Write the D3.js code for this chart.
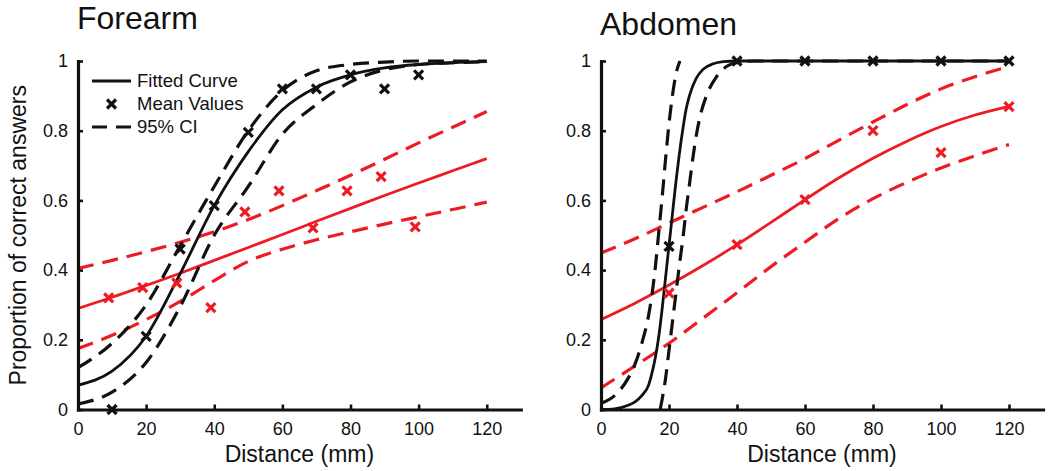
<!DOCTYPE html>
<html><head><meta charset="utf-8">
<script src="https://cdn.jsdelivr.net/npm/d3@7"></script>
<style>
html,body{margin:0;padding:0;background:#fff;}
svg{display:block;font-family:"Liberation Sans",Arial,Helvetica,sans-serif;}
</style></head>
<body><svg id="chart" width="1050" height="471"></svg>
<script>
// ---------------- data ----------------
const xTicks = [0, 20, 40, 60, 80, 100, 120];
const xTickLabels = ["0", "20", "40", "60", "80", "100", "120"];
const yTicks = [0, 0.2, 0.4, 0.6, 0.8, 1];
const yTickLabels = ["0", "0.2", "0.4", "0.6", "0.8", "1"];
const legendLabels = ["Fitted Curve", "Mean Values", "95% CI"];
const panelTitles = ["Forearm", "Abdomen"];

const curveX = [0, 10, 20, 30, 40, 50, 60, 70, 80, 90, 100, 110, 120];

// Forearm
const forearmBlackMeanX = [10, 20, 30, 40, 50, 60, 70, 80, 90, 100];
const forearmBlackMean = [0, 0.21, 0.46, 0.585, 0.795, 0.92, 0.92, 0.96, 0.92, 0.96];
const forearmRedMeanX = [9, 19, 29, 39, 49, 59, 69, 79, 89, 99];
const forearmRedMean = [0.32, 0.35, 0.363, 0.292, 0.567, 0.627, 0.521, 0.627, 0.668, 0.524];
const forearmBlackFit = [0.07, 0.11, 0.21, 0.39, 0.585, 0.74, 0.86, 0.925, 0.96, 0.98, 0.99, 0.995, 0.998];
const forearmBlackUpper = [0.12, 0.19, 0.30, 0.47, 0.64, 0.80, 0.915, 0.972, 0.99, 0.997, 1, 1, 1];
const forearmBlackLower = [0.016, 0.05, 0.135, 0.295, 0.50, 0.64, 0.79, 0.875, 0.94, 0.975, 0.99, 0.995, 0.998];
const forearmRedFit = [0.29, 0.322, 0.356, 0.391, 0.428, 0.465, 0.502, 0.54, 0.577, 0.614, 0.65, 0.685, 0.72];
const forearmRedUpper = [0.405, 0.428, 0.453, 0.48, 0.51, 0.545, 0.585, 0.628, 0.672, 0.718, 0.765, 0.81, 0.855];
const forearmRedLower = [0.175, 0.213, 0.258, 0.31, 0.37, 0.425, 0.46, 0.487, 0.51, 0.532, 0.553, 0.574, 0.595];

// Abdomen
const abdomenMeanX = [20, 40, 60, 80, 100, 120];
const abdomenBlackMean = [0.468, 1, 1, 1, 1, 1];
const abdomenRedMean = [0.334, 0.473, 0.602, 0.80, 0.737, 0.869];
const abdomenBlackFitX = [0, 4, 8, 10, 12, 14, 15, 16, 17, 18, 19, 20, 21, 22, 23, 24, 25, 26, 28, 30, 33, 36, 40, 60, 80, 100, 120];
const abdomenBlackFit = [0, 0.002, 0.012, 0.022, 0.04, 0.07, 0.105, 0.15, 0.21, 0.29, 0.38, 0.47, 0.56, 0.65, 0.73, 0.8, 0.86, 0.9, 0.95, 0.976, 0.992, 0.998, 1, 1, 1, 1, 1];
const abdomenBlackUpperX = [0, 4, 8, 10, 12, 14, 15, 16, 17, 18, 19, 20, 21, 22, 23.2];
const abdomenBlackUpper = [0.018, 0.04, 0.09, 0.13, 0.19, 0.27, 0.33, 0.41, 0.51, 0.61, 0.72, 0.82, 0.9, 0.96, 1.0];
const abdomenBlackLowerX = [17.4, 18, 19, 20, 21, 22, 23, 24.2, 25, 26, 27, 28, 29, 31, 34, 37, 40, 45, 50, 60, 80, 100, 120];
const abdomenBlackLower = [0, 0.03, 0.09, 0.17, 0.25, 0.33, 0.41, 0.5, 0.57, 0.645, 0.72, 0.785, 0.835, 0.9, 0.955, 0.985, 0.995, 1, 1, 1, 1, 1, 1];
const abdomenRedFit = [0.258, 0.305, 0.357, 0.413, 0.473, 0.537, 0.602, 0.665, 0.721, 0.77, 0.812, 0.845, 0.87];
const abdomenRedUpper = [0.449, 0.49, 0.535, 0.58, 0.625, 0.672, 0.72, 0.773, 0.825, 0.875, 0.92, 0.955, 0.984];
const abdomenRedLower = [0.062, 0.125, 0.19, 0.262, 0.335, 0.41, 0.48, 0.548, 0.605, 0.652, 0.693, 0.728, 0.76];

// ---------------- drawing ----------------
const BLACK = "#111111";
const RED = "#ed1c24";
const DASH = "16,9";
const svg = d3.select("#chart");

const zip = (xs, ys) => xs.map((x, i) => [x, ys[i]]);

const panels = [
  {
    title: panelTitles[0], left: 78, right: 520.8, titleY: 29, legend: true,
    red: {fit: zip(curveX, forearmRedFit), up: zip(curveX, forearmRedUpper), lo: zip(curveX, forearmRedLower),
          mean: zip(forearmRedMeanX, forearmRedMean)},
    black: {fit: zip(curveX, forearmBlackFit), up: zip(curveX, forearmBlackUpper), lo: zip(curveX, forearmBlackLower),
          mean: zip(forearmBlackMeanX, forearmBlackMean)}
  },
  {
    title: panelTitles[1], left: 601, right: 1043, titleY: 35, legend: false,
    red: {fit: zip(curveX, abdomenRedFit), up: zip(curveX, abdomenRedUpper), lo: zip(curveX, abdomenRedLower),
          mean: zip(abdomenMeanX, abdomenRedMean)},
    black: {fit: zip(abdomenBlackFitX, abdomenBlackFit), up: zip(abdomenBlackUpperX, abdomenBlackUpper),
          lo: zip(abdomenBlackLowerX, abdomenBlackLower), mean: zip(abdomenMeanX, abdomenBlackMean)}
  }
];

const yTop = 61, yBot = 409.5;

function drawX(g, cx, cy, r, color) {
  g.append("path")
    .attr("d", `M${cx - r},${cy - r}L${cx + r},${cy + r}M${cx - r},${cy + r}L${cx + r},${cy - r}`)
    .attr("stroke", color).attr("stroke-width", 3.2).attr("fill", "none");
}

panels.forEach((p, pi) => {
  const x = d3.scaleLinear().domain([0, 130]).range([p.left, p.right]);
  const y = d3.scaleLinear().domain([0, 1]).range([yBot, yTop]);
  const g = svg.append("g");

  const clipId = "clip" + pi;
  svg.append("clipPath").attr("id", clipId).append("rect")
    .attr("x", p.left).attr("y", yTop - 3).attr("width", p.right - p.left).attr("height", yBot - yTop + 4);

  const line = d3.line().x(d => x(d[0])).y(d => y(d[1])).curve(d3.curveMonotoneX);
  const plot = g.append("g").attr("clip-path", `url(#${clipId})`);

  function series(s, color) {
    plot.append("path").attr("d", line(s.up)).attr("fill", "none").attr("stroke", color)
      .attr("stroke-width", 3.2).attr("stroke-dasharray", DASH);
    plot.append("path").attr("d", line(s.lo)).attr("fill", "none").attr("stroke", color)
      .attr("stroke-width", 3.2).attr("stroke-dasharray", DASH);
    plot.append("path").attr("d", line(s.fit)).attr("fill", "none").attr("stroke", color)
      .attr("stroke-width", 2.8);
    s.mean.forEach(d => drawX(g, x(d[0]), y(d[1]), 4.5, color));
  }
  series(p.red, RED);
  series(p.black, BLACK);

  // axes
  const xAxis = d3.axisBottom(x).tickValues(xTicks).tickFormat((d, i) => xTickLabels[i])
    .tickSizeInner(-5).tickSizeOuter(0).tickPadding(13);
  const yAxis = d3.axisLeft(y).tickValues(yTicks).tickFormat((d, i) => yTickLabels[i])
    .tickSizeInner(-5).tickSizeOuter(0).tickPadding(10);

  const gx = g.append("g").attr("transform", `translate(0,${yBot})`).call(xAxis);
  const gy = g.append("g").attr("transform", `translate(${p.left},0)`).call(yAxis);
  [gx, gy].forEach(a => {
    a.select(".domain").attr("stroke", BLACK).attr("stroke-width", 3.2).attr("stroke-linecap", "square");
    a.selectAll(".tick line").attr("stroke", BLACK).attr("stroke-width", 2.6);
    a.selectAll(".tick text").attr("fill", BLACK).attr("font-size", 18)
      .attr("font-family", "'Liberation Sans', Arial, sans-serif");
  });

  // axis titles
  g.append("text").attr("x", (p.left + p.right) / 2).attr("y", 462)
    .attr("text-anchor", "middle").attr("font-size", 23).attr("fill", BLACK)
    .text("Distance (mm)");
  g.append("text").attr("x", p.left - 1).attr("y", p.titleY)
    .attr("font-size", 32).attr("fill", BLACK).text(p.title);

  if (pi === 0) {
    g.append("text").attr("transform", `translate(26,${(yTop + yBot) / 2}) rotate(-90)`)
      .attr("text-anchor", "middle").attr("font-size", 23).attr("fill", BLACK)
      .text("Proportion of correct answers");
  }

  if (p.legend) {
    const lg = g.append("g");
    const lx0 = 92, lx1 = 131, tx = 137;
    const rows = [81, 104, 127];
    lg.append("line").attr("x1", lx0).attr("x2", lx1).attr("y1", rows[0]).attr("y2", rows[0])
      .attr("stroke", BLACK).attr("stroke-width", 3);
    drawX(lg, (lx0 + lx1) / 2, rows[1], 4.5, BLACK);
    lg.append("line").attr("x1", lx0).attr("x2", lx1).attr("y1", rows[2]).attr("y2", rows[2])
      .attr("stroke", BLACK).attr("stroke-width", 3.2).attr("stroke-dasharray", "15,9");
    legendLabels.forEach((t, i) => {
      lg.append("text").attr("x", tx).attr("y", rows[i]).attr("dy", "0.35em")
        .attr("font-size", 18.5).attr("fill", BLACK).text(t);
    });
  }
});
</script>
</body></html>
